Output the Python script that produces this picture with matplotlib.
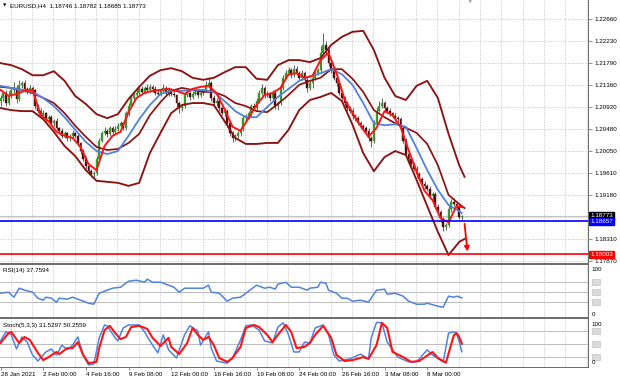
import numpy as np
import matplotlib
matplotlib.use("Agg")
import matplotlib.pyplot as plt
import matplotlib.transforms as mtransforms
from matplotlib.patches import Rectangle

plt.rcParams['font.family'] = ['Liberation Sans', 'DejaVu Sans']

## EURUSD H4 candles (bar index = position on the chart)
closes = [
    1.2110, 1.2120, 1.2100, 1.2115, 1.2125, 1.2130, 1.2108, 1.2135, 1.2140, 1.2128,
    1.2122, 1.2130, 1.2125, 1.2095, 1.2085, 1.2075, 1.2080, 1.2068, 1.2072, 1.2060,
    1.2065, 1.2050, 1.2045, 1.2035, 1.2040, 1.2030, 1.2035, 1.2040, 1.2035, 1.2020,
    1.2005, 1.1990, 1.1975, 1.1965, 1.1960, 1.1962, 1.1990, 1.2025, 1.2040, 1.2045,
    1.2038, 1.2050, 1.2042, 1.2048, 1.2055, 1.2060, 1.2050, 1.2080, 1.2095, 1.2110,
    1.2115, 1.2120, 1.2128, 1.2122, 1.2130, 1.2125, 1.2132, 1.2128, 1.2120, 1.2118,
    1.2125, 1.2130, 1.2120, 1.2126, 1.2118, 1.2115, 1.2100, 1.2090, 1.2095, 1.2115,
    1.2120, 1.2112, 1.2118, 1.2122, 1.2115, 1.2120, 1.2125, 1.2135, 1.2140, 1.2110,
    1.2100, 1.2105, 1.2090, 1.2080, 1.2085, 1.2060, 1.2040, 1.2030, 1.2035, 1.2040,
    1.2048, 1.2070, 1.2075, 1.2080, 1.2095, 1.2090, 1.2105, 1.2120, 1.2130, 1.2115,
    1.2118, 1.2110, 1.2120, 1.2095, 1.2100, 1.2130, 1.2150, 1.2160, 1.2165, 1.2155,
    1.2168, 1.2160, 1.2150, 1.2160, 1.2145, 1.2130, 1.2140, 1.2150, 1.2160, 1.2165,
    1.2200, 1.2215, 1.2205, 1.2180, 1.2165, 1.2150, 1.2140, 1.2120, 1.2110, 1.2100,
    1.2090, 1.2085, 1.2075, 1.2070, 1.2060, 1.2055, 1.2050, 1.2045, 1.2030, 1.2025,
    1.2060, 1.2085, 1.2095, 1.2100, 1.2090, 1.2085, 1.2080, 1.2075, 1.2070, 1.2068,
    1.2050, 1.2025, 1.2000, 1.1990, 1.1980, 1.1970, 1.1960, 1.1950, 1.1940, 1.1935,
    1.1930, 1.1915, 1.1920, 1.1895, 1.1885, 1.1870, 1.1855, 1.1858, 1.1890, 1.1905,
    1.1900, 1.1895, 1.18746, 1.18773,
]
first_open = 1.2105
# wick lengths in pips above / below the body
wick_up = [
    6, 4, 5, 8, 5, 12, 6, 10, 4, 6,
    3, 5, 4, 3, 4, 5, 6, 3, 4, 5,
    4, 6, 3, 5, 4, 3, 4, 6, 3, 5,
    3, 4, 5, 3, 4, 3, 6, 5, 4, 7,
    3, 5, 4, 6, 5, 4, 3, 4, 5, 6,
    4, 8, 5, 6, 4, 7, 5, 4, 6, 5,
    3, 8, 4, 5, 4, 6, 3, 5, 4, 5,
    6, 4, 5, 6, 4, 5, 3, 9, 11, 4,
    5, 4, 3, 4, 6, 3, 5, 4, 3, 5,
    4, 6, 3, 5, 4, 6, 5, 6, 7, 4,
    5, 4, 6, 3, 4, 7, 5, 6, 7, 4,
    8, 5, 4, 6, 3, 4, 5, 6, 8, 4,
    12, 24, 8, 5, 6, 4, 5, 4, 6, 3,
    5, 4, 6, 3, 4, 5, 3, 4, 5, 4,
    6, 8, 10, 9, 5, 4, 6, 3, 5, 4,
    4, 3, 5, 4, 3, 4, 5, 3, 4, 5,
    4, 6, 3, 4, 5, 3, 4, 5, 8, 6,
    7, 5, 4, 0.9,
]
wick_dn = [
    10, 5, 6, 4, 5, 6, 8, 4, 5, 6,
    4, 5, 3, 6, 5, 4, 6, 5, 4, 6,
    5, 4, 6, 5, 4, 6, 5, 4, 5, 6,
    5, 4, 6, 5, 6, 8, 4, 5, 3, 4,
    5, 4, 6, 3, 4, 5, 4, 3, 5, 4,
    6, 3, 5, 4, 5, 3, 4, 6, 5, 4,
    5, 3, 4, 6, 5, 4, 8, 9, 6, 4,
    3, 5, 4, 3, 5, 4, 5, 3, 4, 6,
    4, 5, 6, 4, 5, 7, 6, 8, 5, 4,
    5, 4, 3, 6, 5, 4, 3, 5, 4, 6,
    4, 5, 3, 6, 8, 4, 5, 3, 4, 6,
    4, 5, 6, 4, 5, 8, 5, 10, 4, 5,
    6, 5, 8, 6, 5, 4, 6, 5, 4, 6,
    5, 4, 6, 5, 4, 6, 5, 4, 5, 12,
    5, 4, 3, 5, 6, 4, 5, 4, 6, 5,
    6, 5, 4, 6, 5, 4, 6, 5, 4, 6,
    5, 4, 6, 5, 4, 6, 9, 7, 4, 5,
    4, 6, 5, 6.1,
]

## Bollinger bands and moving averages
band_bars = list(range(0, 173, 4)) + [174]
upper_band = [1.2179, 1.2175, 1.2167, 1.2155, 1.2155, 1.2163, 1.2144, 1.2114, 1.2098, 1.2078,
              1.2070, 1.2078, 1.2108, 1.2132, 1.2154, 1.2165, 1.2169, 1.2163, 1.2150, 1.2146,
              1.2150, 1.2161, 1.2171, 1.2171, 1.2148, 1.2146, 1.2175, 1.2185, 1.2185, 1.2181,
              1.2189, 1.2215, 1.2231, 1.2241, 1.2243, 1.2205, 1.2150, 1.2114, 1.2106, 1.2134,
              1.2144, 1.2110, 1.2039, 1.1977, 1.1954]
middle_band = [1.2132, 1.2130, 1.2126, 1.2120, 1.2110, 1.2100, 1.2080, 1.2055, 1.2033, 1.2013,
               1.2007, 1.2009, 1.2021, 1.2039, 1.2076, 1.2102, 1.2124, 1.2130, 1.2126, 1.2122,
               1.2122, 1.2114, 1.2100, 1.2094, 1.2084, 1.2082, 1.2098, 1.2116, 1.2136, 1.2144,
               1.2150, 1.2167, 1.2167, 1.2148, 1.2122, 1.2086, 1.2072, 1.2060, 1.2051, 1.2041,
               1.2019, 1.1977, 1.1918, 1.1900, 1.1892]
lower_band = [1.2090, 1.2086, 1.2084, 1.2084, 1.2068, 1.2043, 1.2015, 1.1995, 1.1967, 1.1946,
              1.1944, 1.1942, 1.1936, 1.1942, 1.2001, 1.2041, 1.2080, 1.2096, 1.2100, 1.2100,
              1.2096, 1.2064, 1.2031, 1.2019, 1.2019, 1.2021, 1.2021, 1.2047, 1.2086, 1.2106,
              1.2112, 1.2120, 1.2104, 1.2057, 1.2001, 1.1965, 1.1993, 1.2005, 1.1997, 1.1948,
              1.1896, 1.1845, 1.1799, 1.1825, 1.1831]
slow_ma_bars = list(range(0, 173, 4)) + [173]
slow_ma = [1.2134, 1.2130, 1.2126, 1.2122, 1.2110, 1.2094, 1.2072, 1.2047, 1.2023, 1.2005,
           1.1999, 1.2005, 1.2035, 1.2068, 1.2096, 1.2118, 1.2124, 1.2124, 1.2126, 1.2126,
           1.2122, 1.2104, 1.2084, 1.2072, 1.2072, 1.2092, 1.2112, 1.2128, 1.2144, 1.2152,
           1.2159, 1.2167, 1.2157, 1.2136, 1.2100, 1.2060, 1.2056, 1.2058, 1.2053, 1.2011,
           1.1967, 1.1928, 1.1898, 1.1886, 1.1882]
fast_ma_bars = list(range(0, 172, 3)) + [173]
fast_ma = [1.2126, 1.2114, 1.2118, 1.2124, 1.2126, 1.2076, 1.2064, 1.2043, 1.2035, 1.2031,
           1.2013, 1.1979, 1.1967, 1.2015, 1.2035, 1.2043, 1.2082, 1.2110, 1.2120, 1.2124,
           1.2126, 1.2128, 1.2124, 1.2118, 1.2128, 1.2132, 1.2134, 1.2120, 1.2088, 1.2053,
           1.2045, 1.2070, 1.2096, 1.2116, 1.2120, 1.2130, 1.2157, 1.2159, 1.2150, 1.2154,
           1.2185, 1.2199, 1.2159, 1.2108, 1.2080, 1.2055, 1.2033, 1.2051, 1.2084, 1.2076,
           1.2053, 1.2007, 1.1965, 1.1926, 1.1908, 1.1872, 1.1864, 1.1896, 1.1894]

## RSI(14)
rsi_bars = [0, 3, 5, 7, 9, 12, 14, 16, 17, 19, 21, 22, 25, 27, 30, 33, 35, 37, 40, 42,
            45, 48, 51, 54, 55, 57, 60, 63, 65, 67, 69, 72, 76, 78, 79, 82, 85, 87, 90, 93,
            96, 99, 101, 103, 104, 107, 109, 112, 115, 116, 119, 120, 122, 123, 126, 128, 130, 132, 135, 138,
            139, 141, 144, 145, 148, 151, 153, 156, 159, 160, 164, 166, 168, 170, 171, 173]
rsi_vals = [47, 49, 39, 57, 53, 49, 37, 33, 39, 37, 29, 37, 35, 39, 33, 27, 25, 47, 53, 57,
            59, 71, 73, 69, 75, 69, 69, 63, 59, 49, 57, 57, 57, 63, 49, 47, 31, 37, 39, 51,
            63, 57, 59, 55, 65, 69, 59, 59, 53, 57, 59, 69, 67, 53, 47, 37, 37, 31, 33, 29,
            37, 53, 55, 45, 47, 41, 31, 25, 25, 27, 21, 19, 41, 39, 41, 37.76]

## Stochastic(5,3,3)
stoch_main_bars = [0, 2, 4, 6, 8, 10, 12, 14, 17, 19, 21, 23, 25, 27, 29, 31, 33, 35, 37, 39,
                   40, 43, 44, 46, 48, 52, 54, 57, 59, 61, 63, 66, 69, 71, 74, 75, 78, 79, 81, 85,
                   87, 90, 92, 94, 97, 99, 102, 104, 106, 108, 110, 112, 114, 116, 118, 121, 123, 125, 127, 131,
                   135, 138, 139, 141, 143, 145, 149, 153, 156, 160, 162, 166, 168, 170, 171, 172, 173]
stoch_main = [57, 78, 71, 38, 66, 54, 24, 10, 31, 38, 24, 47, 36, 47, 66, 24, 1, 3, 64, 94,
              92, 64, 57, 87, 94, 94, 78, 47, 29, 71, 36, 17, 71, 92, 80, 47, 78, 40, 10, 5,
              17, 59, 92, 94, 82, 57, 52, 89, 99, 71, 31, 31, 54, 52, 87, 94, 71, 24, 10, 15,
              26, 15, 64, 100, 99, 54, 19, 8, 8, 36, 24, 8, 75, 78, 75, 55, 31.53]
stoch_sig_bars = [0, 3, 4, 7, 9, 11, 14, 16, 18, 21, 22, 25, 27, 29, 31, 33, 36, 37, 39, 41,
                  43, 45, 47, 49, 52, 55, 57, 60, 63, 64, 67, 70, 72, 74, 76, 78, 80, 82, 85, 87,
                  90, 92, 95, 97, 100, 102, 104, 107, 109, 111, 114, 116, 118, 121, 124, 126, 129, 132, 136, 138,
                  141, 143, 145, 147, 151, 154, 157, 162, 164, 167, 170, 171, 172, 173]
stoch_sig = [52, 75, 78, 52, 66, 59, 29, 12, 19, 31, 26, 40, 40, 54, 24, 5, 8, 40, 82, 92,
             75, 61, 66, 89, 92, 85, 64, 45, 64, 43, 26, 52, 87, 71, 59, 66, 47, 17, 8, 17,
             43, 87, 94, 89, 71, 54, 71, 94, 78, 40, 43, 52, 71, 92, 64, 24, 10, 12, 19, 15,
             47, 99, 87, 31, 19, 8, 10, 31, 17, 6, 70, 75, 66, 50.26]

## levels and labels
bid_price = 1.18773
blue_level = 1.18657
red_level = 1.18003
arrow_from = (174.0, 1.1861)
arrow_to = (175.1, 1.1806)
price_ticks = [1.22660, 1.22230, 1.21790, 1.21360, 1.20920, 1.20480,
               1.20050, 1.19610, 1.19180, 1.18740, 1.18310, 1.17870]
date_bars = [0, 16, 32, 48, 64, 80, 96, 112, 128, 144, 160]
date_labels = ['28 Jan 2021', '2 Feb 00:00', '4 Feb 16:00', '9 Feb 08:00', '12 Feb 00:00',
               '16 Feb 16:00', '19 Feb 08:00', '24 Feb 00:00', '26 Feb 16:00',
               '3 Mar 08:00', '8 Mar 00:00']

W, H = 620, 382
FS = 4.5
GRID = '#c8c8c8'
FRAME = '#6e6e6e'
BLUE = '#4f82e3'
RED = '#ff1414'
BAND = '#8c1212'

fig = plt.figure(figsize=(W / 100, H / 100), dpi=100)
fig.patch.set_facecolor('white')


def panel(top, bottom):
    return fig.add_axes([0, 1 - bottom / H, 588 / W, (bottom - top) / H])


def px_rect(x0, y0, x1, y1, color):
    fig.add_artist(Rectangle((x0 / W, 1 - y1 / H), (x1 - x0) / W, (y1 - y0) / H,
                             transform=fig.transFigure, facecolor=color, edgecolor='none', zorder=10))


ax = panel(0, 263)
ax_rsi = panel(265, 318)
ax_st = panel(319, 367)

xlim = (-0.2, 220.3)
grid_x = np.arange(3.75, 221, 8)
for a in (ax, ax_rsi, ax_st):
    a.set_xlim(*xlim)
    for s in a.spines.values():
        s.set_visible(False)
    for gx in grid_x:
        a.axvline(gx, color=GRID, lw=0.6, ls=(0, (1.5, 1.5)), zorder=0)
    a.tick_params(axis='x', bottom=False, labelbottom=False)

# ---- main price panel
ax.set_ylim(1.17833, 1.2304)
for p in price_ticks:
    ax.axhline(p, color=GRID, lw=0.6, ls=(0, (1.5, 1.5)), zorder=0)
ax.axhline(bid_price, color='#c4c4c4', lw=0.8, zorder=1)

opens = [first_open] + closes[:-1]
o = np.array(opens)
c = np.array(closes)
hi = np.maximum(o, c) + np.array(wick_up) * 1e-4
lo = np.minimum(o, c) - np.array(wick_dn) * 1e-4
x = np.arange(len(closes))
body_col = np.where(c >= o, '#3a9a2a', '#4e0e0e')
ax.vlines(x, lo, hi, color='#484848', lw=0.6, zorder=3)
ax.bar(x, c - o, bottom=o, width=0.62, color=body_col, edgecolor=body_col, linewidth=0.3, zorder=4)

ax.plot(band_bars, upper_band, color=BAND, lw=1.35, zorder=5, solid_joinstyle='round')
ax.plot(band_bars, middle_band, color=BAND, lw=1.25, zorder=5, solid_joinstyle='round')
ax.plot(band_bars, lower_band, color=BAND, lw=1.35, zorder=5, solid_joinstyle='round')
ax.plot(slow_ma_bars, slow_ma, color=BLUE, lw=1.3, zorder=6, solid_joinstyle='round')
ax.plot(fast_ma_bars, fast_ma, color=RED, lw=1.4, zorder=7, solid_joinstyle='round')

ax.axhline(blue_level, color='#0000ff', lw=1.2, zorder=8)
ax.axhline(red_level, color='#ff0000', lw=1.2, zorder=8)
ax.annotate('', xy=arrow_to, xytext=arrow_from,
            arrowprops=dict(arrowstyle='-|>', color='#ff0000', lw=1.3, mutation_scale=7,
                            shrinkA=0, shrinkB=0), zorder=9)

ax.yaxis.tick_right()
ax.set_yticks(price_ticks)
ax.set_yticklabels(['' if abs(p - 1.18740) < 1e-6 else f'{p:.5f}' for p in price_ticks])
ax.tick_params(axis='y', length=3, width=0.6, color='#808080', labelsize=FS, pad=1.5,
               labelcolor='black')

tr = mtransforms.blended_transform_factory(ax.transAxes, ax.transData)
for val, fc in ((bid_price, 'black'), (blue_level, '#0000ff'), (red_level, '#ff0000')):
    ax.text(1.004, val, f'{val:.5f}', transform=tr, ha='left', va='center', fontsize=FS,
            color='white', zorder=12,
            bbox=dict(boxstyle='square,pad=0.15', facecolor=fc, edgecolor=fc))

fig.text(3 / W, 1 - 5.5 / H, '\u25bc', fontsize=3.2, family='DejaVu Sans', va='center', ha='left')
fig.text(10 / W, 1 - 5.5 / H, 'EURUSD,H4  1.18746 1.18782 1.18685 1.18773',
         fontsize=FS, va='center', ha='left')
fig.text(470 / W, 1 - 1.5 / H, '\u25bc', fontsize=4, color='#a8a8a8', family='DejaVu Sans',
         va='center', ha='center')

# ---- RSI panel
ax_rsi.set_ylim(-2.6, 103.4)
ax_rsi.set_yticks([])
for lv in (70, 50, 30):
    ax_rsi.axhline(lv, color='#bcbcbc', lw=0.7, zorder=0)
ax_rsi.plot(rsi_bars, rsi_vals, color=BLUE, lw=1.1, zorder=3)
ax_rsi.text(0.005, 0.9, 'RSI(14) 37.7594', transform=ax_rsi.transAxes, fontsize=FS,
            va='center', ha='left')

# ---- Stochastic panel
ax_st.set_ylim(-4.0, 107.9)
ax_st.set_yticks([])
for lv in (80, 50, 20):
    ax_st.axhline(lv, color='#bcbcbc', lw=0.7, zorder=0)
ax_st.plot(stoch_main_bars, stoch_main, color=BLUE, lw=1.1, zorder=3)
ax_st.plot(stoch_sig_bars, stoch_sig, color=RED, lw=1.5, zorder=4)
ax_st.text(0.005, 0.87, 'Stoch(5,3,3) 31.5297 50.2559', transform=ax_st.transAxes,
           fontsize=FS, va='center', ha='left')

for a, levels, h in ((ax_rsi, (70, 50, 30), 12), (ax_st, (80, 50, 20), 14)):
    t = mtransforms.blended_transform_factory(a.transAxes, a.transData)
    a.text(1.006, 100, '100', transform=t, fontsize=FS, va='top', ha='left')
    a.text(1.006, 0, '0', transform=t, fontsize=FS, va='bottom', ha='left')
    for lv in levels:
        a.add_patch(Rectangle((1.007, lv - h / 2), 0.014, h, transform=t, clip_on=False,
                              facecolor='#dcdcdc', edgecolor='#b8b8b8', lw=0.4))

ax_st.set_xticks(date_bars)
ax_st.set_xticklabels(date_labels)
ax_st.tick_params(axis='x', bottom=True, labelbottom=True, length=2, width=0.6,
                  color='#808080', labelsize=FS, pad=1.5)
for lab in ax_st.get_xticklabels():
    lab.set_ha('left')

# ---- window frame and separators
px_rect(0, 262.8, 588, 265.2, FRAME)
px_rect(0, 316.8, 588, 319.2, FRAME)
px_rect(0, 366.6, 589, 368.0, FRAME)
px_rect(587.6, 0, 589.2, 368.0, FRAME)

fig.savefig('out.png', dpi=100)
